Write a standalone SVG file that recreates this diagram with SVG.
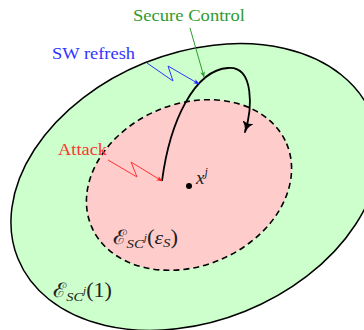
<svg xmlns="http://www.w3.org/2000/svg" width="364" height="330" viewBox="0 0 364 330">
<defs>
<marker id="ahb" viewBox="0 0 10 10" refX="9" refY="5" markerWidth="6" markerHeight="6" orient="auto" markerUnits="userSpaceOnUse"><path d="M0,1 L10,5 L0,9 L2.5,5 Z" fill="#2020ff"/></marker>
<marker id="ahg" viewBox="0 0 10 10" refX="9" refY="5" markerWidth="6" markerHeight="6" orient="auto" markerUnits="userSpaceOnUse"><path d="M0,1 L10,5 L0,9 L2.5,5 Z" fill="#2f9a2f"/></marker>
<marker id="ahr" viewBox="0 0 10 10" refX="9" refY="5" markerWidth="6" markerHeight="6" orient="auto" markerUnits="userSpaceOnUse"><path d="M0,1 L10,5 L0,9 L2.5,5 Z" fill="#ff2020"/></marker>
<marker id="ahk" viewBox="0 0 10 10" refX="9" refY="5" markerWidth="11" markerHeight="11" orient="auto" markerUnits="userSpaceOnUse"><path d="M0,0.5 Q4,5 10,5 Q4,5 0,9.5 Q3,5 0,0.5 Z" fill="#000" stroke="#000" stroke-width="1"/></marker>
</defs>
<style>
text{font-family:"Liberation Serif","DejaVu Serif",serif}
.i{font-style:italic}
</style>
<g id="outer-set">
<ellipse cx="195" cy="187" rx="191" ry="134" transform="rotate(-22 195 187)" fill="#ccffcc" stroke="#000" stroke-width="1.5"/>
</g>
<g id="inner-set">
<ellipse cx="189" cy="185" rx="106" ry="81" transform="rotate(-23 189 185)" fill="#ffcccc" stroke="#000" stroke-width="1.6" stroke-dasharray="6 4"/>
</g>
<g id="equilibrium">
<circle cx="189" cy="186" r="3" fill="#000"/>
<text font-family="Liberation Serif, DejaVu Serif, serif" x="196" y="184" font-size="19" fill="#222"><tspan class="i">x</tspan><tspan class="i" font-size="12" dy="-8">j</tspan></text>
</g>
<g id="labels">
<text font-family="Liberation Serif, DejaVu Serif, serif" font-size="17.5" x="189" y="21" text-anchor="middle" fill="#2f9a2f" textLength="112" lengthAdjust="spacingAndGlyphs">Secure Control</text>
<text font-family="Liberation Serif, DejaVu Serif, serif" font-size="17.5" x="52" y="59" fill="#3333ff" textLength="83" lengthAdjust="spacingAndGlyphs">SW refresh</text>
<text font-family="Liberation Serif, DejaVu Serif, serif" font-size="17.5" x="58" y="155" fill="#ff3333" textLength="49" lengthAdjust="spacingAndGlyphs">Attack</text>
<text font-family="Liberation Serif, DejaVu Serif, serif" x="113" y="244" font-size="20" fill="#222" textLength="65" lengthAdjust="spacingAndGlyphs">ℰ<tspan class="i" font-size="13" dy="4">SC</tspan><tspan class="i" font-size="10" dy="-7">j</tspan><tspan dy="3" font-size="20">(</tspan><tspan class="i" font-size="19">ε</tspan><tspan class="i" font-size="13" dy="3">S</tspan><tspan font-size="20" dy="-3">)</tspan></text>
<text font-family="Liberation Serif, DejaVu Serif, serif" x="53" y="297" font-size="20" fill="#222" textLength="59" lengthAdjust="spacingAndGlyphs">ℰ<tspan class="i" font-size="13" dy="4">SC</tspan><tspan class="i" font-size="10" dy="-7">j</tspan><tspan dy="3" font-size="20">(1)</tspan></text>
</g>
<g id="connectors" fill="none">
<path d="M162,181 C170,120 195,70 228,68 C255,66 252,110 245,132" stroke="#000" stroke-width="1.8" marker-end="url(#ahk)"/>
<path d="M147,63 L173,81 L168,66 L199,84" stroke="#3333ff" stroke-width="1" marker-end="url(#ahb)"/>
<path d="M190,28 L204,77" stroke="#2f9a2f" stroke-width="1" marker-end="url(#ahg)"/>
<path d="M108,160 L137,177 L131,162 L162,181" stroke="#ff3333" stroke-width="1" marker-end="url(#ahr)"/>
</g>
</svg>
